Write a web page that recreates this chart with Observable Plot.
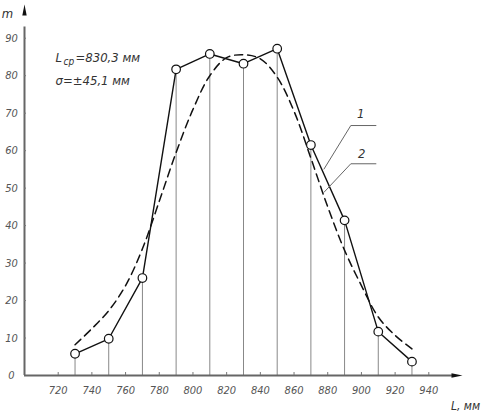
<!DOCTYPE html>
<html>
<head>
<meta charset="utf-8">
<script src="https://cdn.jsdelivr.net/npm/d3@7"></script>
<script src="https://cdn.jsdelivr.net/npm/@observablehq/plot@0.6"></script>
<style>
  html, body { margin: 0; padding: 0; background: #fff; }
  #chart svg { display: block; overflow: visible; }
</style>
</head>
<body>
<div id="chart"></div>
<script>
// Measured frequencies (solid polygon, curve 1)
const lengths = [730, 750, 770, 790, 810, 830, 850, 870, 890, 910, 930];
const counts  = [5.8, 9.8, 26, 81.7, 85.8, 83.2, 87.2, 61.5, 41.4, 11.7, 3.7];

// Dashed curve 2
const curveX = [730, 740, 750, 760, 770, 780, 790, 800, 810, 820, 830, 840, 850, 860, 870, 880, 890, 900, 910, 920, 930];
const curveY = [8.2, 12.5, 17.3, 24, 33.8, 46.5, 59.5, 71, 80, 84.8, 85.6, 84.5, 79.6, 70.5, 58, 45, 33.4, 24, 15.6, 10.7, 7.1];

// Axis ticks
const xTicks = [720, 740, 760, 780, 800, 820, 840, 860, 880, 900, 920, 940];
const yTicks = [0, 10, 20, 30, 40, 50, 60, 70, 80, 90];

// Leader lines for the labels "1" and "2"
const leader1 = [[877.8, 55.1], [893.7, 66.7], [908.6, 66.7]];
const leader2 = [[877.8, 48.9], [893.7, 56.5], [908.6, 56.5]];
const labels12 = [{x: 899.6, y: 69.9, t: "1"}, {x: 900.2, y: 59.2, t: "2"}];

const points = lengths.map((x, i) => ({x, y: counts[i]}));
const curve = curveX.map((x, i) => ({x, y: curveY[i]}));

const font = "'Liberation Sans Narrow', 'DejaVu Sans Condensed', 'Liberation Sans', sans-serif";

const headShape = {
  draw(c, l, r) {
    c.moveTo(0, -l);
    c.lineTo(-r, 0);
    c.lineTo(r, 0);
    c.closePath();
  }
};

const plot = Plot.plot({
  width: 487,
  height: 417,
  marginTop: 4,
  marginRight: 25,
  marginBottom: 42,
  marginLeft: 24,
  x: {domain: [700, 960], axis: null},
  y: {domain: [0, 99], axis: null},
  style: {fontFamily: font, background: "#fff"},
  marks: [
    // drop lines
    Plot.ruleX(points, {x: "x", y1: 0, y2: "y", stroke: "#888", strokeWidth: 1}),
    // axes
    Plot.ruleY([0], {x1: 700, x2: 955, stroke: "#666", strokeWidth: 2}),
    Plot.ruleX([700], {y1: 0, y2: 93, stroke: "#666", strokeWidth: 2}),
    Plot.vector([{x: 960, y: 0}], {x: "x", y: "y", length: 11, rotate: 90, anchor: "end", shape: headShape, r: 2.2, fill: "#111", stroke: "none"}),
    Plot.vector([{x: 700, y: 99}], {x: "x", y: "y", length: 11, rotate: 0, anchor: "end", shape: headShape, r: 2.2, fill: "#111", stroke: "none"}),
    // tick marks
    Plot.ruleX(xTicks, {x: d => d, y1: 0, y2: 0.8, stroke: "#777", strokeWidth: 1}),
    Plot.ruleY(yTicks.slice(1), {y: d => d, x1: 700, x2: 701.2, stroke: "#777", strokeWidth: 1}),
    // tick labels
    Plot.text(xTicks, {x: d => d, y: 0, dy: 15, text: d => String(d), fontSize: 11, fontStyle: "italic", fill: "#555"}),
    Plot.text(yTicks, {x: 700, y: d => d, dx: -13, text: d => String(d), fontSize: 11, fontStyle: "italic", fill: "#555"}),
    // dashed curve 2
    Plot.line(curve, {x: "x", y: "y", curve: "catmull-rom", stroke: "#111", strokeWidth: 1.5, strokeDasharray: "8,5"}),
    // polygon 1
    Plot.line(points, {x: "x", y: "y", stroke: "#111", strokeWidth: 1.4}),
    Plot.dot(points, {x: "x", y: "y", r: 4.3, fill: "#fff", stroke: "#111", strokeWidth: 1.2}),
    // leaders
    Plot.line(leader1, {x: d => d[0], y: d => d[1], stroke: "#666", strokeWidth: 1}),
    Plot.line(leader2, {x: d => d[0], y: d => d[1], stroke: "#666", strokeWidth: 1}),
    Plot.text(labels12, {x: "x", y: "y", text: "t", fontSize: 13, fontStyle: "italic", fill: "#333"}),
    // annotations
    Plot.text(["L"], {frameAnchor: "top-left", dx: 31, dy: 48, text: d => d, textAnchor: "start", fontSize: 13, fontStyle: "italic", fill: "#333"}),
    Plot.text(["ср"], {frameAnchor: "top-left", dx: 39, dy: 53, text: d => d, textAnchor: "start", fontSize: 10, fontStyle: "italic", fill: "#333"}),
    Plot.text(["=830,3 мм"], {frameAnchor: "top-left", dx: 51, dy: 48, text: d => d, textAnchor: "start", fontSize: 13, fontStyle: "italic", fill: "#333"}),
    Plot.text(["σ=±45,1 мм"], {frameAnchor: "top-left", dx: 31, dy: 71, text: d => d, textAnchor: "start", fontSize: 13, fontStyle: "italic", fill: "#333"}),
    Plot.text(["m"], {frameAnchor: "top-left", dx: -17, dy: 4, text: d => d, textAnchor: "middle", fontSize: 13, fontStyle: "italic", fill: "#333"}),
    Plot.text(["L, мм"], {frameAnchor: "bottom-right", dx: 3, dy: 34, text: d => d, textAnchor: "middle", fontSize: 12, fontStyle: "italic", fill: "#333"})
  ]
});

document.getElementById("chart").appendChild(plot);
</script>
</body>
</html>
